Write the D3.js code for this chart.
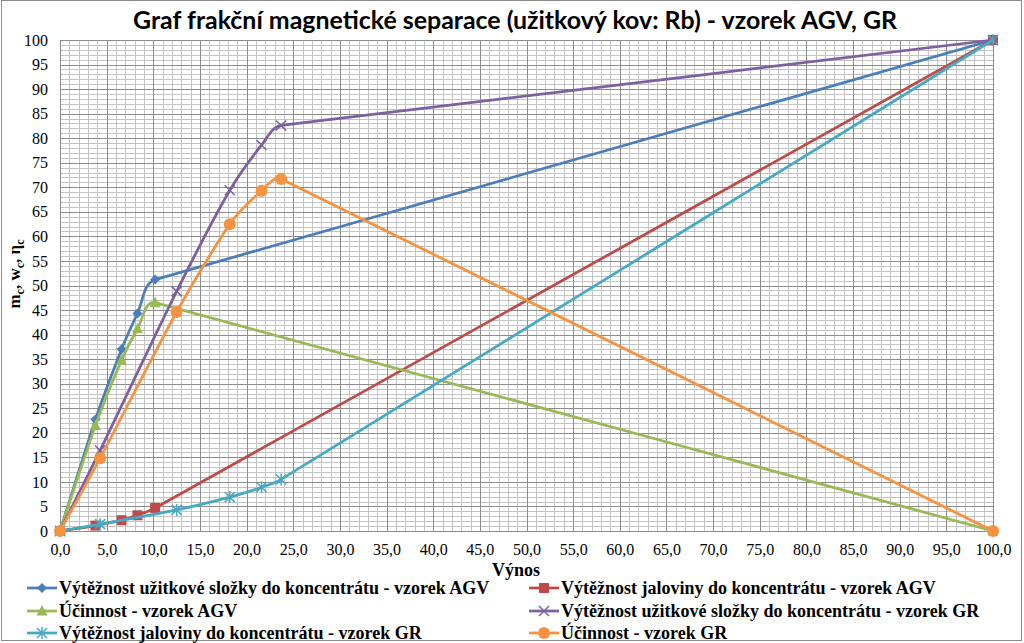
<!DOCTYPE html>
<html><head><meta charset="utf-8">
<script src="https://cdn.jsdelivr.net/npm/d3@7"></script>
<style>body{margin:0;background:#fff}svg{display:block}</style>
</head><body>
<svg id="c" width="1024" height="643"></svg>
<script>
const title = "Graf frakční magnetické separace (užitkový kov: Rb) - vzorek AGV, GR";
const xTicks = d3.range(0, 101, 5);
const yTicks = d3.range(0, 101, 5);

const agvX = [0, 3.8, 6.6, 8.3, 10.2, 100];
const gvX  = [0, 4.3, 12.5, 18.2, 21.6, 23.7, 100];

const agvUseful = [0, 22.7, 37.0, 44.3, 51.2, 100];
const agvGangue = [0, 1.1, 2.2, 3.2, 4.7, 100];
const agvEff    = [0, 21.5, 34.8, 41.2, 46.5, 0];
const grUseful  = [0, 16.4, 48.8, 69.4, 78.6, 82.6, 100];
const grGangue  = [0, 1.4, 4.3, 6.9, 8.9, 10.5, 100];
const grEff     = [0, 14.8, 44.6, 62.5, 69.3, 71.7, 0];

const seriesNames = [
  "Výtěžnost užitkové složky do koncentrátu - vzorek AGV",
  "Výtěžnost jaloviny do koncentrátu - vzorek AGV",
  "Účinnost - vzorek AGV",
  "Výtěžnost užitkové složky do koncentrátu - vzorek GR",
  "Výtěžnost jaloviny do koncentrátu - vzorek GR",
  "Účinnost - vzorek GR"
];
const colors = ["#4A7EBB", "#BE4B48", "#98B954", "#7D60A0", "#46AAC5", "#F69240"];
const markers = ["diamond", "square", "triangle", "x", "star", "circle"];

const series = [
  {x: agvX, y: agvUseful}, {x: agvX, y: agvGangue}, {x: agvX, y: agvEff},
  {x: gvX, y: grUseful}, {x: gvX, y: grGangue}, {x: gvX, y: grEff}
].map((s, i) => ({name: seriesNames[i], color: colors[i], marker: markers[i],
  pts: s.x.map((v, j) => [v, s.y[j]])}));

const svg = d3.select("#c");
const L = 60, R = 993, T = 40, B = 531;
const x = d3.scaleLinear().domain([0, 100]).range([L, R]);
const y = d3.scaleLinear().domain([0, 100]).range([B, T]);

// outer border
svg.append("rect").attr("x", 1.5).attr("y", 0.5).attr("width", 1020).attr("height", 640)
  .attr("fill", "#fff").attr("stroke", "#8c8c8c").attr("stroke-width", 1);

// grid
const g = svg.append("g");
const minor = d3.range(0, 101, 1).filter(v => v % 5);
g.selectAll(".mx").data(minor).join("line")
  .attr("x1", d => Math.round(x(d)) + 0.5).attr("x2", d => Math.round(x(d)) + 0.5)
  .attr("y1", T).attr("y2", B).attr("stroke", "#c4c4c4");
g.selectAll(".my").data(minor).join("line")
  .attr("y1", d => Math.round(y(d)) + 0.5).attr("y2", d => Math.round(y(d)) + 0.5)
  .attr("x1", L).attr("x2", R).attr("stroke", "#c4c4c4");
g.selectAll(".Mx").data(xTicks).join("line")
  .attr("x1", d => Math.round(x(d)) + 0.5).attr("x2", d => Math.round(x(d)) + 0.5)
  .attr("y1", T).attr("y2", B).attr("stroke", "#8c8c8c");
g.selectAll(".My").data(yTicks).join("line")
  .attr("y1", d => Math.round(y(d)) + 0.5).attr("y2", d => Math.round(y(d)) + 0.5)
  .attr("x1", L).attr("x2", R).attr("stroke", "#8c8c8c");

// axes
const fmt = d => d.toFixed(1).replace(".", ",");
const xa = svg.append("g").attr("transform", `translate(0,${B})`)
  .call(d3.axisBottom(x).tickValues(xTicks).tickFormat(fmt).tickSize(0).tickPadding(13));
xa.attr("font-family", "Liberation Serif, serif").attr("font-size", 16);
xa.select(".domain").attr("stroke", "#8c8c8c");
xa.selectAll("text").attr("fill", "#000");
const ya = svg.append("g").attr("transform", `translate(${L},0)`)
  .call(d3.axisLeft(y).tickValues(yTicks).tickSize(0).tickPadding(12));
ya.attr("font-family", "Liberation Serif, serif").attr("font-size", 16);
ya.select(".domain").attr("stroke", "#8c8c8c");
ya.selectAll("text").attr("fill", "#000");

// title
svg.append("text").attr("x", 515).attr("y", 29).attr("text-anchor", "middle")
  .attr("font-family", "Lato, Liberation Sans, sans-serif").attr("font-weight", "bold")
  .attr("font-size", 24).attr("textLength", 764).attr("lengthAdjust", "spacingAndGlyphs")
  .attr("fill", "#000").text(title);

// axis titles
svg.append("text").attr("x", 516).attr("y", 576).attr("text-anchor", "middle")
  .attr("font-family", "Liberation Serif, serif").attr("font-weight", "bold").attr("font-size", 18)
  .text("Výnos");
const yl = svg.append("text").attr("transform", "translate(20,274) rotate(-90)").attr("text-anchor", "middle")
  .attr("font-family", "Liberation Serif, serif").attr("font-weight", "bold").attr("font-size", 17);
[["m", "c"], ["w", "c"], ["η", "c"]].forEach((p, i) => {
  yl.append("tspan").attr("dy", i ? -4 : 0).text((i ? ", " : "") + p[0]);
  yl.append("tspan").attr("font-size", 12).attr("dy", 4).text(p[1]);
});

// markers
function drawMarker(sel, type, color, cx, cy) {
  const s = 5;
  if (type === "diamond") sel.append("path").attr("d", `M${cx},${cy - s}L${cx + s},${cy}L${cx},${cy + s}L${cx - s},${cy}Z`).attr("fill", color);
  else if (type === "square") sel.append("rect").attr("x", cx - 5).attr("y", cy - 5).attr("width", 10).attr("height", 10).attr("fill", color);
  else if (type === "triangle") sel.append("path").attr("d", `M${cx},${cy - 6}L${cx + 5.5},${cy + 4.5}L${cx - 5.5},${cy + 4.5}Z`).attr("fill", color);
  else if (type === "circle") sel.append("circle").attr("cx", cx).attr("cy", cy).attr("r", 6).attr("fill", color);
  else if (type === "x") sel.append("path").attr("d", `M${cx - 5},${cy - 5}L${cx + 5},${cy + 5}M${cx - 5},${cy + 5}L${cx + 5},${cy - 5}`).attr("stroke", color).attr("stroke-width", 1.5);
  else if (type === "star") sel.append("path").attr("d", `M${cx - 5},${cy - 5}L${cx + 5},${cy + 5}M${cx - 5},${cy + 5}L${cx + 5},${cy - 5}M${cx},${cy - 6}L${cx},${cy + 6}`).attr("stroke", color).attr("stroke-width", 1.5);
}

// Excel-like smoothing: bezier with tangent from neighbours, handle limited by shorter adjacent segment
function smoothPath(data) {
  const p = data.map(d => [x(d[0]), y(d[1])]);
  const n = p.length;
  const dist = (a, b) => Math.hypot(b[0] - a[0], b[1] - a[1]);
  const tan = [], h = [];
  for (let i = 0; i < n; i++) {
    const a = p[Math.max(0, i - 1)], b = p[Math.min(n - 1, i + 1)];
    const len = dist(a, b) || 1;
    tan.push([(b[0] - a[0]) / len, (b[1] - a[1]) / len]);
    const dPrev = i > 0 ? dist(p[i - 1], p[i]) : Infinity;
    const dNext = i < n - 1 ? dist(p[i], p[i + 1]) : Infinity;
    h.push(Math.min(dPrev, dNext) / 3);
  }
  let path = `M${p[0][0]},${p[0][1]}`;
  for (let i = 0; i < n - 1; i++) {
    const c1 = [p[i][0] + tan[i][0] * h[i], p[i][1] + tan[i][1] * h[i]];
    const c2 = [p[i + 1][0] - tan[i + 1][0] * h[i + 1], p[i + 1][1] - tan[i + 1][1] * h[i + 1]];
    path += `C${c1[0]},${c1[1]},${c2[0]},${c2[1]},${p[i + 1][0]},${p[i + 1][1]}`;
  }
  return path;
}

const plot = svg.append("g");
series.forEach(s => {
  plot.append("path").attr("d", smoothPath(s.pts)).attr("fill", "none").attr("stroke", s.color)
    .attr("stroke-width", 2.75).attr("stroke-linejoin", "round");
  s.pts.forEach(p => drawMarker(plot, s.marker, s.color, x(p[0]), y(p[1])));
});

// legend
const legPos = [[27, 588], [529, 588], [27, 611], [529, 611], [27, 633], [529, 633]];
series.forEach((s, i) => {
  const [lx, ly] = legPos[i];
  const lg = svg.append("g");
  lg.append("line").attr("x1", lx).attr("x2", lx + 30).attr("y1", ly).attr("y2", ly)
    .attr("stroke", s.color).attr("stroke-width", 2.75);
  drawMarker(lg, s.marker, s.color, lx + 15, ly);
  lg.append("text").attr("x", lx + 32).attr("y", ly + 6)
    .attr("font-family", "Liberation Serif, serif").attr("font-weight", "bold").attr("font-size", 18)
    .text(s.name);
});
</script>
</body></html>
